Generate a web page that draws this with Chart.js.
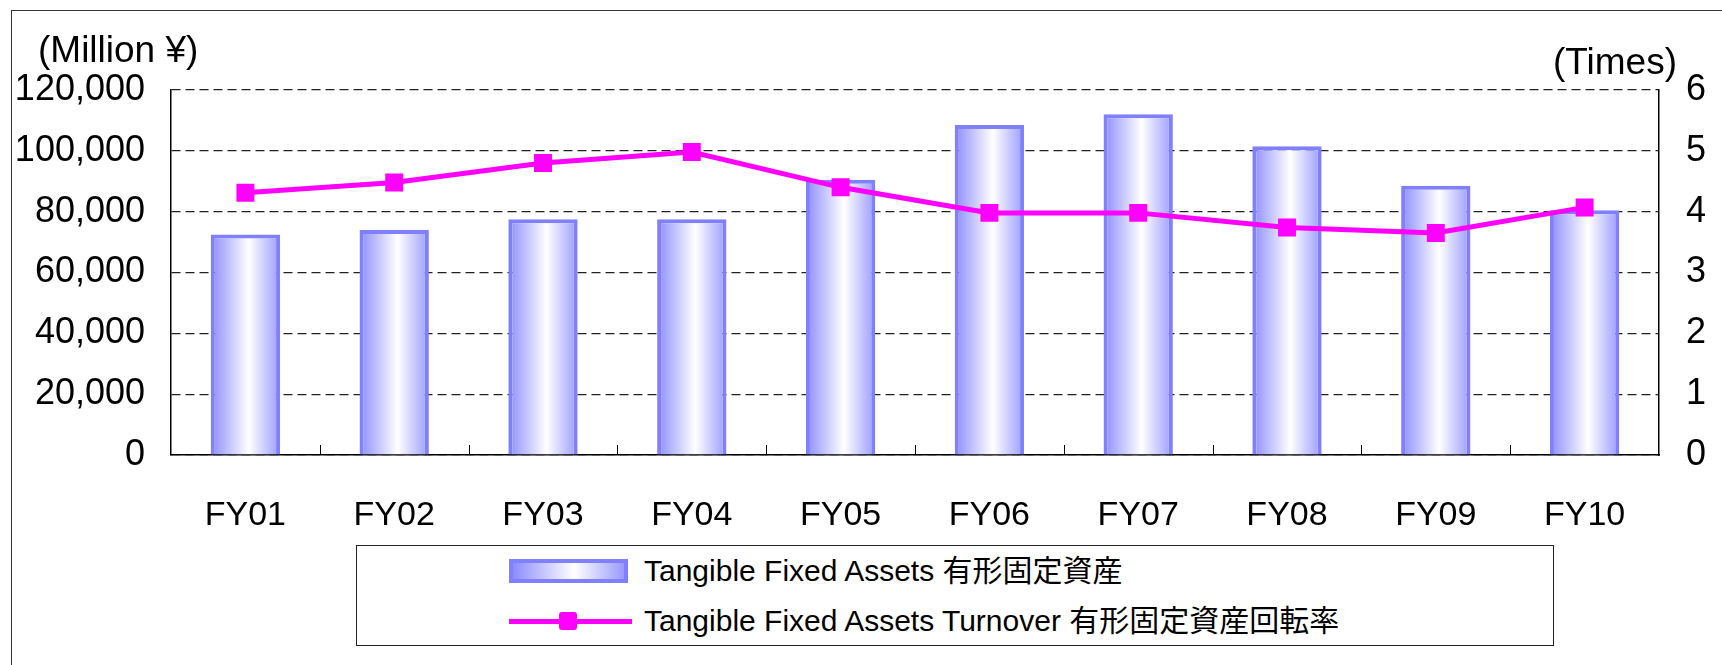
<!DOCTYPE html>
<html>
<head>
<meta charset="utf-8">
<script src="https://cdn.jsdelivr.net/npm/chart.js@4.4.1/dist/chart.umd.min.js"></script>
<style>
    body { margin: 0; background: #fff; overflow: hidden; }
    #wrap { position: relative; width: 1722px; height: 665px; }
    #frame {
        position: absolute; left: 11px; top: 10px; width: 1740px; height: 700px;
        border-left: 1.5px solid #333; border-top: 1.5px solid #333;
    }
    #legend {
        position: absolute; left: 356px; top: 545px; width: 1196px; height: 99px;
        border: 1.5px solid #222; background: #fff;
        font-family: "Liberation Sans", Arial, "Noto Sans CJK JP", sans-serif;
        font-size: 30px; color: #000;
    }
    .item { position: absolute; left: 0; height: 40px; width: 100%; }
    .item span { position: absolute; left: 287px; top: 0; line-height: 40px; white-space: nowrap; }
    .bar-swatch {
        position: absolute; left: 152px; top: 8px; width: 119px; height: 24px; box-sizing: border-box;
        border: 4px solid #8080ff;
        background: linear-gradient(to right, #8c8cff 0%, #ffffff 55%, #9a9aff 100%);
    }
    .line-swatch { position: absolute; left: 152px; top: 18px; width: 123px; height: 5px; background: #ff00ff; }
    .marker { position: absolute; left: 202px; top: 11px; width: 18px; height: 18px; border-radius: 3px; background: #ff00ff; }
</style>
</head>
<body>
<div id="wrap">
    <canvas id="chart" width="1722" height="665"></canvas>
    <div id="frame"></div>
    <div id="legend">
        <div class="item" style="top: 5px;"><div class="bar-swatch"></div><span>Tangible Fixed Assets 有形固定資産</span></div>
        <div class="item" style="top: 55px;"><div class="line-swatch"></div><div class="marker"></div><span>Tangible Fixed Assets Turnover 有形固定資産回転率</span></div>
    </div>
</div>
<script>
    // Data
    var years = ["FY01", "FY02", "FY03", "FY04", "FY05", "FY06", "FY07", "FY08", "FY09", "FY10"];
    var fixedAssets = [72500, 74000, 77500, 77500, 90500, 108500, 112000, 101500, 88500, 80500];
    var turnover = [4.31, 4.48, 4.80, 4.98, 4.40, 3.98, 3.98, 3.74, 3.65, 4.07];
    var leftTicks = [0, 20000, 40000, 60000, 80000, 100000, 120000];
    var rightTicks = [0, 1, 2, 3, 4, 5, 6];

    var font = "'Liberation Sans', Arial, sans-serif";
    var barPct = 0.466;

    // Horizontal gradient for each bar
    function barFill(c) {
        var chart = c.chart;
        var x = chart.scales.x;
        if (!chart.chartArea || !x) return "#b0b0ff";
        var cx = x.getPixelForValue(c.dataIndex);
        var half = (x.width / years.length) * barPct / 2;
        var g = chart.ctx.createLinearGradient(cx - half, 0, cx + half, 0);
        g.addColorStop(0, "#8c8cff");
        g.addColorStop(0.55, "#ffffff");
        g.addColorStop(1, "#9a9aff");
        return g;
    }

    // Axis unit titles
    var unitTitles = {
        id: "unitTitles",
        afterDraw: function (chart) {
            var ctx = chart.ctx;
            ctx.save();
            ctx.fillStyle = "#000";
            ctx.font = "37px " + font;
            ctx.textBaseline = "middle";
            ctx.textAlign = "left";
            ctx.fillText("(Million ¥)", 38, 52);
            ctx.textAlign = "right";
            ctx.fillText("(Times)", 1677, 64);
            ctx.restore();
        }
    };

    // Small inward tick marks between categories
    var innerTicks = {
        id: "innerTicks",
        afterDatasetsDraw: function (chart) {
            var x = chart.scales.x, ctx = chart.ctx, bottom = chart.chartArea.bottom;
            ctx.save();
            ctx.strokeStyle = "#000";
            ctx.lineWidth = 1;
            for (var i = 0; i < years.length - 1; i++) {
                var px = Math.round((x.getPixelForValue(i) + x.getPixelForValue(i + 1)) / 2) + 0.5;
                ctx.beginPath();
                ctx.moveTo(px, bottom - 10);
                ctx.lineTo(px, bottom);
                ctx.stroke();
            }
            ctx.restore();
        }
    };

    var ctx1 = document.getElementById("chart").getContext("2d");
    var myChart = new Chart(ctx1, {
        data: {
            labels: years,
            datasets: [
                {
                    type: "line",
                    label: "Tangible Fixed Assets Turnover 有形固定資産回転率",
                    data: turnover,
                    yAxisID: "y1",
                    order: 0,
                    borderColor: "#ff00ff",
                    borderWidth: 5,
                    pointStyle: "rect",
                    pointRadius: 12.7,
                    pointBackgroundColor: "#ff00ff",
                    pointBorderWidth: 0,
                    tension: 0
                },
                {
                    type: "bar",
                    label: "Tangible Fixed Assets 有形固定資産",
                    data: fixedAssets,
                    yAxisID: "y",
                    order: 1,
                    backgroundColor: barFill,
                    borderColor: "#8080ff",
                    borderWidth: 4,
                    categoryPercentage: 1,
                    barPercentage: barPct
                }
            ]
        },
        options: {
            responsive: false,
            animation: false,
            layout: { padding: { top: 90, left: 0, right: 0, bottom: 0 } },
            plugins: {
                legend: { display: false },
                tooltip: { enabled: false }
            },
            scales: {
                x: {
                    grid: { display: false },
                    border: { display: true, color: "#000", width: 1.5 },
                    ticks: { color: "#000", font: { family: font, size: 34 }, padding: 32, maxRotation: 0 },
                    afterFit: function (s) { s.height = 210; }
                },
                y: {
                    position: "left",
                    min: 0,
                    max: 120000,
                    grid: { color: "#222", lineWidth: 1.2, drawTicks: false },
                    border: { display: true, color: "#000", width: 1.5, dash: [9, 5] },
                    afterBuildTicks: function (s) { s.ticks = leftTicks.map(function (v) { return { value: v }; }); },
                    ticks: {
                        color: "#000", font: { family: font, size: 36 }, padding: 26,
                        callback: function (v) { return v.toLocaleString("en-US"); }
                    },
                    afterFit: function (s) { s.width = 171; }
                },
                y1: {
                    position: "right",
                    min: 0,
                    max: 6,
                    grid: { drawOnChartArea: false, drawTicks: false },
                    border: { display: true, color: "#000", width: 1.5 },
                    afterBuildTicks: function (s) { s.ticks = rightTicks.map(function (v) { return { value: v }; }); },
                    ticks: { color: "#000", font: { family: font, size: 36 }, padding: 27 },
                    afterFit: function (s) { s.width = 63; }
                }
            }
        },
        plugins: [unitTitles, innerTicks]
    });
</script>
</body>
</html>
